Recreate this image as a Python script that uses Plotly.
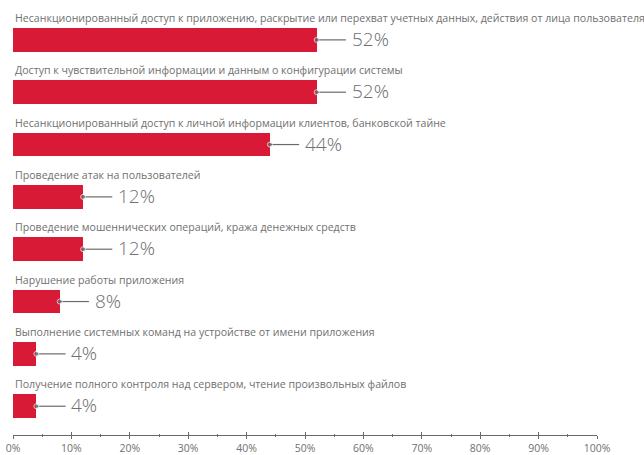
import plotly.graph_objects as go

categories = [
    "Несанкционированный доступ к приложению, раскрытие или перехват учетных данных, действия от лица пользователя",
    "Доступ к чувствительной информации и данным о конфигурации системы",
    "Несанкционированный доступ к личной информации клиентов, банковской тайне",
    "Проведение атак на пользователей",
    "Проведение мошеннических операций, кража денежных средств",
    "Нарушение работы приложения",
    "Выполнение системных команд на устройстве от имени приложения",
    "Получение полного контроля над сервером, чтение произвольных файлов",
]
values = [52, 52, 44, 12, 12, 8, 4, 4]
tick_vals = [0, 10, 20, 30, 40, 50, 60, 70, 80, 90, 100]
tick_text = [f"{v}%" for v in tick_vals]

BAR_COLOR = "#d91a36"
TEXT_COLOR = "#707070"
LINE_COLOR = "#6a6a6a"
FONT = "Open Sans"
LIGHT_FONT = "Open Sans Light, Lato Light, Open Sans"
CONNECTOR = 5.0  # connector length, in percent units

pos = list(range(len(categories)))

fig = go.Figure()
fig.add_trace(go.Bar(
    x=values, y=pos, orientation="h", width=0.453,
    marker=dict(color=BAR_COLOR, line=dict(width=0)),
    hoverinfo="skip", showlegend=False,
))

# connector lines from the bar end to the value label
for p, v in zip(pos, values):
    fig.add_trace(go.Scatter(
        x=[v, v + CONNECTOR], y=[p, p], mode="lines+markers",
        line=dict(color=LINE_COLOR, width=1.2),
        marker=dict(size=[5, 0], color=LINE_COLOR),
        hoverinfo="skip", showlegend=False, cliponaxis=False,
    ))

annotations = []
for p, c, v in zip(pos, categories, values):
    annotations.append(dict(
        x=0, y=p - 0.42, xref="x", yref="y", text=c, showarrow=False,
        xanchor="left", yanchor="middle",
        font=dict(family=FONT, size=10.6, color=TEXT_COLOR),
    ))
    annotations.append(dict(
        x=v, y=p, xref="x", yref="y", text=f"{v}%", showarrow=False,
        xanchor="left", yanchor="middle", xshift=33, yshift=1,
        font=dict(family=LIGHT_FONT, size=19, color=TEXT_COLOR, weight=300),
    ))

# a second, overlaid x axis gives the ticks that point upward
fig.add_trace(go.Scatter(x=[0], y=[0], xaxis="x2", mode="markers",
                         marker=dict(opacity=0), hoverinfo="skip", showlegend=False))

fig.update_layout(
    width=644, height=455,
    margin=dict(l=13, r=47, t=0, b=20),
    paper_bgcolor="white", plot_bgcolor="white",
    annotations=annotations,
    bargap=0,
    xaxis=dict(
        range=[0, 100], tickvals=tick_vals, ticktext=tick_text,
        showgrid=False, zeroline=False, showline=True,
        linecolor=LINE_COLOR, linewidth=1,
        ticks="outside", ticklen=3, tickcolor=LINE_COLOR, tickwidth=1,
        tickfont=dict(family=FONT, size=10.5, color=TEXT_COLOR),
        minor=dict(dtick=5, ticks="outside", ticklen=1, tickcolor=LINE_COLOR),
        automargin=False, fixedrange=True,
    ),
    xaxis2=dict(
        range=[0, 100], overlaying="x", anchor="y", side="bottom",
        tickvals=tick_vals, showticklabels=False, showgrid=False,
        zeroline=False, ticks="inside", ticklen=3, tickcolor=LINE_COLOR,
        minor=dict(dtick=5, ticks="inside", ticklen=1, tickcolor=LINE_COLOR),
        fixedrange=True,
    ),
    yaxis=dict(
        range=[7.55, -0.762], visible=False, fixedrange=True,
    ),
)

fig.write_html("out.html")
